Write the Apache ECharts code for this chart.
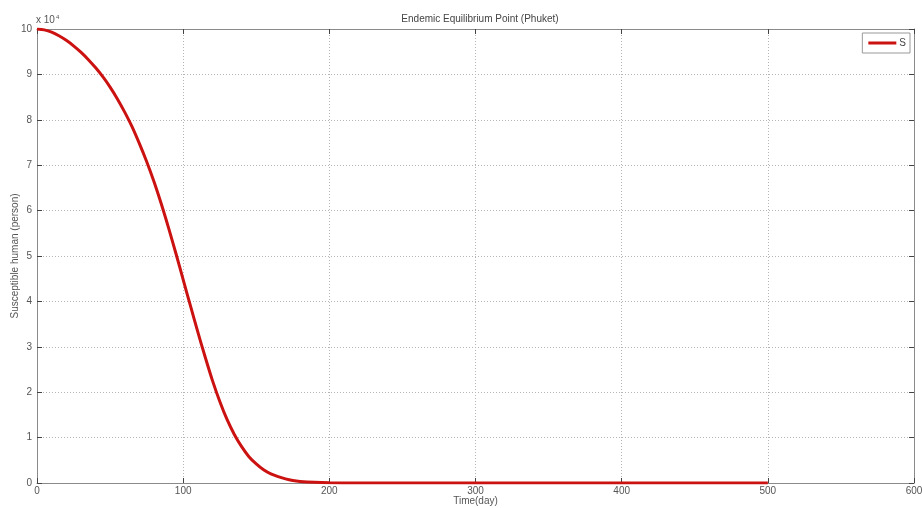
<!DOCTYPE html>
<html>
<head>
<meta charset="utf-8">
<title>Endemic Equilibrium Point (Phuket)</title>
<script src="https://cdn.jsdelivr.net/npm/echarts@6/dist/echarts.min.js"></script>
<style>
  html, body { margin: 0; padding: 0; background: #fff; }
  #chart { width: 922px; height: 508px; }
</style>
</head>
<body>
<div id="chart"></div>
<script>
// days and susceptible humans (person)
const days = [0, 5, 10, 15, 20, 25, 30, 35, 40, 45, 50, 55, 60, 65, 70, 75, 80, 85, 90, 95, 100,
  105, 110, 115, 120, 125, 130, 135, 140, 145, 150, 155, 160, 165, 170, 175, 180, 190, 200, 220, 250, 300, 350, 400, 450, 500]
const susceptible = [100000, 99800, 99300, 98500, 97500, 96300, 94900, 93300, 91500, 89500, 87200, 84600, 81700, 78500, 74800, 70800, 66400, 61500, 56200, 50600, 44800,
  39000, 33300, 27800, 22600, 18000, 14000, 10700, 8000, 5800, 4200, 2900, 2000, 1400, 900, 550, 350, 150, 60, 10, 0, 0, 0, 0, 0, 0]
const xTicks = [0, 100, 200, 300, 400, 500, 600]
const yTicks = [0, 1, 2, 3, 4, 5, 6, 7, 8, 9, 10]

const fontFamily = 'Liberation Sans, Arial, sans-serif'
const axisGrey = '#8a8a8a'
const labelColor = '#555'

const chart = echarts.init(document.getElementById('chart'))

const baseX = {
  type: 'value',
  min: xTicks[0],
  max: xTicks[xTicks.length - 1],
  interval: 100,
  axisLine: { onZero: false, lineStyle: { color: axisGrey, width: 1 } },
  axisTick: { inside: true, length: 5, lineStyle: { color: '#444' } }
}
const baseY = {
  type: 'value',
  min: 0,
  max: 100000,
  interval: 10000,
  axisLine: { onZero: false, lineStyle: { color: axisGrey, width: 1 } },
  axisTick: { inside: true, length: 5, lineStyle: { color: '#444' } }
}

const option = {
  animation: false,
  textStyle: { fontFamily },
  title: {
    text: 'Endemic Equilibrium Point (Phuket)',
    left: 475,
    textAlign: 'center',
    top: 9,
    textStyle: { fontSize: 10, fontWeight: 'normal', color: '#444', fontFamily }
  },
  legend: {
    right: 12,
    top: 33,
    data: ['S'],
    icon: 'rect',
    itemWidth: 28,
    itemHeight: 3,
    itemGap: 4,
    padding: [5, 4, 5, 6],
    borderColor: '#999',
    borderWidth: 1,
    backgroundColor: '#fff',
    textStyle: { fontSize: 10, color: '#444', padding: [0, 0, 0, -2] }
  },
  grid: { left: 37, right: 8, top: 29, bottom: 25, outerBoundsMode: 'none', containLabel: false },
  graphic: [{
    type: 'text',
    left: 36,
    top: 14,
    style: {
      text: 'x 10{sup|4}',
      rich: { sup: { fontSize: 6, verticalAlign: 'top', padding: [0, 0, 6, 1] } },
      fontSize: 10,
      fill: labelColor,
      fontFamily
    }
  }],
  xAxis: [
    Object.assign({}, baseX, {
      position: 'bottom',
      name: 'Time(day)',
      nameLocation: 'middle',
      nameGap: 13,
      nameMoveOverlap: false,
      nameTextStyle: { fontSize: 10, color: labelColor },
      axisLabel: { fontSize: 10, color: labelColor, margin: 3 },
      splitLine: { show: true, lineStyle: { color: '#b5b5b5', type: [1, 2], width: 1 } }
    }),
    Object.assign({}, baseX, {
      position: 'top',
      axisLabel: { show: false },
      splitLine: { show: false }
    })
  ],
  yAxis: [
    Object.assign({}, baseY, {
      position: 'left',
      name: 'Susceptible human (person)',
      nameLocation: 'middle',
      nameGap: 17,
      nameMoveOverlap: false,
      nameTextStyle: { fontSize: 10, color: labelColor },
      axisLabel: {
        fontSize: 10,
        color: labelColor,
        margin: 5,
        formatter: v => String(yTicks[Math.round(v / 10000)])
      },
      splitLine: { show: true, lineStyle: { color: '#b5b5b5', type: [1, 2], width: 1 } }
    }),
    Object.assign({}, baseY, {
      position: 'right',
      axisLabel: { show: false },
      splitLine: { show: false }
    })
  ],
  series: [{
    name: 'S',
    type: 'line',
    data: days.map((d, i) => [d, susceptible[i]]),
    smooth: 0.3,
    showSymbol: false,
    symbol: 'none',
    color: '#cc1111',
    lineStyle: { color: '#cc1111', width: 3 }
  }]
}

chart.setOption(option)
</script>
</body>
</html>
